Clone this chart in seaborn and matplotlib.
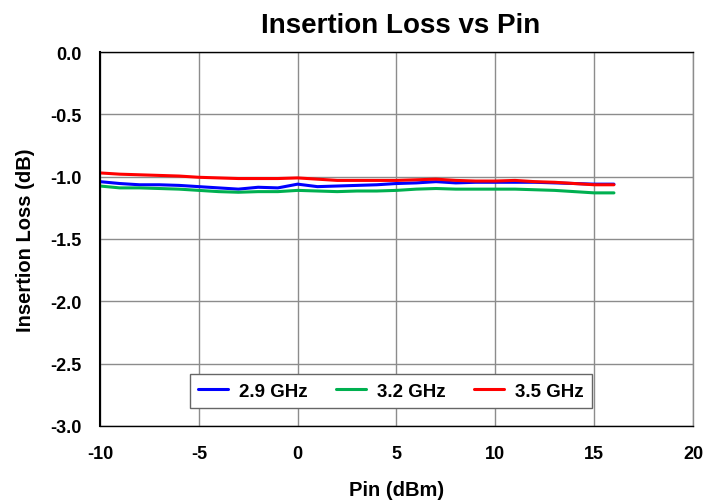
import pandas as pd
import matplotlib
matplotlib.use("Agg")
import matplotlib.pyplot as plt
import seaborn as sns

pin = list(range(-10, 17))

loss_29 = [-1.04, -1.055, -1.065, -1.065, -1.07, -1.08, -1.09, -1.10, -1.085, -1.09,
           -1.06, -1.08, -1.075, -1.07, -1.065, -1.055, -1.05, -1.04, -1.05, -1.045,
           -1.045, -1.045, -1.045, -1.05, -1.055, -1.06, -1.06]
loss_32 = [-1.075, -1.09, -1.09, -1.095, -1.10, -1.11, -1.12, -1.125, -1.12, -1.12,
           -1.11, -1.115, -1.12, -1.115, -1.115, -1.11, -1.10, -1.095, -1.10, -1.10,
           -1.10, -1.10, -1.105, -1.11, -1.12, -1.13, -1.13]
loss_35 = [-0.97, -0.98, -0.985, -0.99, -0.995, -1.005, -1.01, -1.015, -1.015, -1.015,
           -1.01, -1.02, -1.03, -1.03, -1.03, -1.03, -1.025, -1.02, -1.03, -1.035,
           -1.035, -1.03, -1.04, -1.045, -1.055, -1.065, -1.065]

labels = ["2.9 GHz", "3.2 GHz", "3.5 GHz"]
colors = ["#0000ff", "#00b050", "#ff0000"]
yticks = [-3.0, -2.5, -2.0, -1.5, -1.0, -0.5, 0.0]

df = pd.concat([
    pd.DataFrame({"pin": pin, "loss": vals, "freq": lab})
    for vals, lab in zip([loss_29, loss_32, loss_35], labels)
])

sns.set_style("white")
plt.rcParams['font.family'] = ['Liberation Sans', 'DejaVu Sans']
plt.rcParams['font.weight'] = 'bold'
plt.rcParams['axes.unicode_minus'] = False
plt.rcParams['text.color'] = 'black'
plt.rcParams['axes.labelcolor'] = 'black'
plt.rcParams['xtick.color'] = 'black'
plt.rcParams['ytick.color'] = 'black'

W, H = 724, 502
fig = plt.figure(figsize=(W / 100, H / 100), dpi=100)
ax = fig.add_axes([100 / W, 1 - 427 / H, 593 / W, 374 / H])

sns.lineplot(data=df, x="pin", y="loss", hue="freq", palette=colors,
             linewidth=2.2, ax=ax, sort=False)

ax.set_xlim(-10, 20)
ax.set_ylim(-3.0, 0.0)
ax.set_xticks(range(-10, 21, 5))
ax.set_yticks(yticks)
ax.set_yticklabels([f"{v:.1f}" for v in yticks])
ax.grid(True, color="#8c8c8c", linewidth=1)
ax.tick_params(axis="y", labelsize=13, length=0, pad=13)
ax.tick_params(axis="x", labelsize=13, length=0, pad=14)
for lab in ax.get_xticklabels() + ax.get_yticklabels():
    lab.set_fontweight("bold")
for name, sp in ax.spines.items():
    sp.set_visible(True)
    sp.set_color("#8c8c8c" if name == "right" else "black")
    sp.set_linewidth(1)
ax.spines["left"].set_linewidth(1.5)

ax.set_xlabel("Pin (dBm)", fontsize=14.5, fontweight="bold")
ax.set_ylabel("Insertion Loss (dB)", fontsize=14.5, fontweight="bold")
ax.xaxis.set_label_coords((397 - 100) / 593, (427 - 481) / 374)
ax.yaxis.set_label_coords((35 - 100) / 593, 0.5)
fig.text(401 / W, 1 - 33 / H, "Insertion Loss vs Pin", ha="center", va="baseline",
         fontsize=20, fontweight="bold")

leg = ax.legend(loc="center", bbox_to_anchor=((391 - 100) / 593, (427 - 392) / 374),
                ncol=3, frameon=True, fancybox=False,
                handlelength=1.6, handletextpad=0.6, columnspacing=1.5,
                borderpad=0.45, borderaxespad=0,
                prop={"weight": "bold", "size": 13.5})
leg.get_frame().set_edgecolor("#666666")
leg.get_frame().set_linewidth(1)
leg.get_frame().set_alpha(1)

fig.savefig("out.png", dpi=100)
